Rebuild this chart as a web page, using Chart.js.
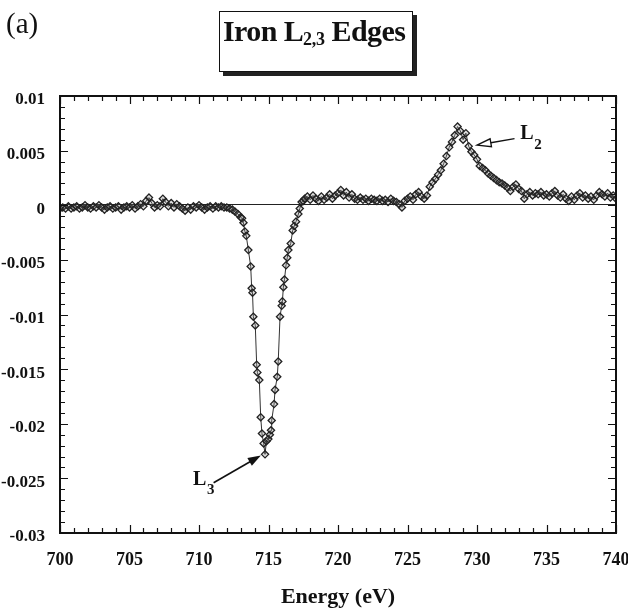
<!DOCTYPE html>
<html>
<head>
<meta charset="utf-8">
<script src="https://cdn.jsdelivr.net/npm/chart.js@4.4.1/dist/chart.umd.min.js"></script>
<style>
  html, body { margin: 0; padding: 0; background: #fff; }
  #wrap { position: relative; width: 628px; height: 612px; overflow: hidden; background: #fff; }
  #c { position: absolute; left: 0; top: 0; }
  #panel { position: absolute; left: 6px; top: 7px; font: 29px "Liberation Serif", "Times New Roman", serif; color: #111; }
  #titlebox { position: absolute; left: 219px; top: 11px; width: 192px; height: 59px; border: 1.5px solid #111;
              box-shadow: 4px 4px 0 #222; background: #fff; box-sizing: content-box; }
  #titlebox span.t { position: absolute; left: 3px; top: 2px; white-space: nowrap;
              font: bold 30px "Liberation Serif", "Times New Roman", serif; color: #111; letter-spacing: -0.6px; }
  #titlebox sub { font-size: 18px; vertical-align: -4px; line-height: 0; letter-spacing: -0.3px; }
</style>
</head>
<body>
<div id="wrap">
  <canvas id="c" width="628" height="612"></canvas>
  <div id="panel">(a)</div>
  <div id="titlebox"><span class="t">Iron L<sub>2,3</sub> Edges</span></div>
</div>
<script>
// ---------------- DATA ----------------
// Pre-edge region: energies from preStart in steps of preStep (eV)
const preStart = 700.0;
const preStep = 0.2;
const preEdge = [
  -0.0003, -0.0002, -0.0003, -0.0001, -0.0003, -0.0002, -0.0001, -0.0003, -0.0002, 0.0000,
  -0.0002, -0.0003, -0.0001, -0.0002, 0.0000, -0.0002, -0.0004, -0.0002, -0.0001, -0.0003,
  -0.0002, -0.0001, -0.0004, -0.0002, -0.0001, -0.0002, 0.0000, -0.0003, -0.0001, 0.0001,
  -0.0001, 0.0004, 0.0007, 0.0002, -0.0002, 0.0000, -0.0001, 0.0006, 0.0003, -0.0001,
  0.0002, -0.0002, 0.0001, -0.0001, -0.0003, -0.0005, -0.0002, -0.0004, -0.0001, -0.0002,
  0.0000, -0.0002, -0.0004, -0.0002, -0.0001, -0.0003, -0.0001, -0.0002, -0.0001, -0.0002,
  -0.0002, -0.0003
];
// L3 edge region: explicit energies (eV) and values
const edgeEnergy = [
  712.4, 712.6, 712.8, 713.0, 713.1, 713.2, 713.3, 713.4, 713.55, 713.72,
  713.79, 713.85, 713.91, 714.05, 714.15, 714.2, 714.34, 714.44, 714.53, 714.65,
  714.75, 714.85, 714.99, 715.1, 715.18, 715.23, 715.4, 715.47, 715.63, 715.7,
  715.83, 715.95, 716.0, 716.07, 716.15, 716.26, 716.35, 716.43, 716.6, 716.74,
  716.85, 716.98, 717.15, 717.25, 717.38, 717.5, 717.6
];
const edgeValue = [
  -0.0004, -0.0006, -0.0008, -0.0011, -0.0012, -0.0016, -0.0024, -0.0028, -0.0041, -0.0056,
  -0.0076, -0.0080, -0.0102, -0.0110, -0.0146, -0.0153, -0.0160, -0.0194, -0.0209, -0.0218,
  -0.0228, -0.0216, -0.0214, -0.0210, -0.0206, -0.0197, -0.0182, -0.0169, -0.0157, -0.0143,
  -0.0102, -0.0092, -0.0088, -0.0075, -0.0068, -0.0055, -0.0048, -0.0041, -0.0035, -0.0023,
  -0.0019, -0.0015, -0.0008, -0.0003, 0.0003, 0.0004, 0.0006
];
// Post-edge region (incl. L2 peak): energies from postStart in steps of postStep (eV)
const postStart = 717.8;
const postStep = 0.2;
const postEdge = [
  0.0008, 0.0005, 0.0009, 0.0006, 0.0004, 0.0008, 0.0005, 0.0007, 0.0010, 0.0006,
  0.0009, 0.0011, 0.0014, 0.0009, 0.0012, 0.0007, 0.0010, 0.0006, 0.0005, 0.0007,
  0.0005, 0.0006, 0.0004, 0.0006, 0.0005, 0.0004, 0.0006, 0.0004, 0.0005, 0.0003,
  0.0006, 0.0004, 0.0003, 0.0001, -0.0002, 0.0004, 0.0006, 0.0008, 0.0005, 0.0010,
  0.0012, 0.0008, 0.0006, 0.0009, 0.0017, 0.0021, 0.0024, 0.0028, 0.0032, 0.0038,
  0.0045, 0.0053, 0.0058, 0.0064, 0.0072, 0.0068, 0.0060, 0.0066, 0.0054, 0.0049,
  0.0046, 0.0042, 0.0036, 0.0034, 0.0032, 0.0029, 0.0027, 0.0025, 0.0023, 0.0021,
  0.0020, 0.0018, 0.0016, 0.0013, 0.0017, 0.0019, 0.0015, 0.0013, 0.0006, 0.0010,
  0.0012, 0.0009, 0.0011, 0.0010, 0.0012, 0.0009, 0.0010, 0.0008, 0.0011, 0.0013,
  0.0009, 0.0007, 0.0010, 0.0006, 0.0004, 0.0008, 0.0005, 0.0009, 0.0011, 0.0007,
  0.0009, 0.0006, 0.0008, 0.0005, 0.0009, 0.0012, 0.0010, 0.0008, 0.0011, 0.0007,
  0.0009, 0.0006
];
// Axis ticks
const xTicks = [700, 705, 710, 715, 720, 725, 730, 735, 740];
const yTicks = [0.01, 0.005, 0, -0.005, -0.01, -0.015, -0.02, -0.025, -0.03];
const xMinorStep = 1;
const yMinorStep = 0.001;
// Peak annotations (data coordinates)
const labelL3 = { text: 'L', sub: '3', at: [710.05, -0.0251], tail: [711.05, -0.0254], tip: [714.45, -0.0229] };
const labelL2 = { text: 'L', sub: '2', at: [733.6, 0.0065], tail: [732.7, 0.0061], tip: [730.0, 0.0055] };

// ---------------- BUILD POINTS ----------------
const points = [];
preEdge.forEach((v, i) => points.push({ x: +(preStart + i * preStep).toFixed(2), y: v }));
edgeEnergy.forEach((e, i) => points.push({ x: e, y: edgeValue[i] }));
postEdge.forEach((v, i) => points.push({ x: +(postStart + i * postStep).toFixed(2), y: v }));

const SERIF = '"Liberation Serif", "Times New Roman", serif';

const framePlugin = {
  id: 'frame',
  beforeDatasetsDraw(chart) {
    const { ctx, chartArea: a, scales: { y } } = chart;
    ctx.save();
    ctx.strokeStyle = '#222';
    ctx.lineWidth = 1;
    const y0 = Math.round(y.getPixelForValue(0)) - 0.5;
    ctx.beginPath(); ctx.moveTo(a.left, y0); ctx.lineTo(a.right, y0); ctx.stroke();
    ctx.restore();
  },
  afterDraw(chart) {
    const { ctx, chartArea: a, scales: { x, y } } = chart;
    ctx.save();
    ctx.strokeStyle = '#111';
    ctx.lineWidth = 1.2;
    for (let v = x.min; v <= x.max + 1e-9; v += xMinorStep) {
      const px = Math.round(x.getPixelForValue(v)) + 0.5;
      const major = xTicks.some(t => Math.abs(t - v) < 1e-6);
      const len = major ? 8 : 5;
      ctx.beginPath();
      ctx.moveTo(px, a.bottom); ctx.lineTo(px, a.bottom - len);
      ctx.moveTo(px, a.top); ctx.lineTo(px, a.top + len);
      ctx.stroke();
    }
    const n = Math.round((y.max - y.min) / yMinorStep);
    for (let k = 0; k <= n; k++) {
      const v = y.min + k * yMinorStep;
      const py = Math.round(y.getPixelForValue(v)) + 0.5;
      const major = yTicks.some(t => Math.abs(t - v) < 1e-7);
      const len = major ? 8 : 5;
      ctx.beginPath();
      ctx.moveTo(a.left, py); ctx.lineTo(a.left + len, py);
      ctx.moveTo(a.right, py); ctx.lineTo(a.right - len, py);
      ctx.stroke();
    }
    ctx.lineWidth = 2;
    ctx.strokeStyle = '#111';
    ctx.strokeRect(a.left, a.top, a.right - a.left, a.bottom - a.top);

    const drawLabel = (lab) => {
      const lx = x.getPixelForValue(lab.at[0]);
      const ly = y.getPixelForValue(lab.at[1]);
      ctx.fillStyle = '#111';
      ctx.textBaseline = 'middle';
      ctx.textAlign = 'center';
      ctx.font = 'bold 20px ' + SERIF;
      ctx.fillText(lab.text, lx, ly);
      ctx.font = 'bold 15px ' + SERIF;
      ctx.fillText(lab.sub, lx + 11, ly + 11);
    };
    drawLabel(labelL3);
    drawLabel(labelL2);

    {
      const tx = x.getPixelForValue(labelL3.tail[0]), ty = y.getPixelForValue(labelL3.tail[1]);
      const hx = x.getPixelForValue(labelL3.tip[0]), hy = y.getPixelForValue(labelL3.tip[1]);
      const ang = Math.atan2(hy - ty, hx - tx);
      ctx.strokeStyle = '#111'; ctx.lineWidth = 1.6;
      ctx.beginPath(); ctx.moveTo(tx, ty); ctx.lineTo(hx - 8 * Math.cos(ang), hy - 8 * Math.sin(ang)); ctx.stroke();
      ctx.fillStyle = '#111';
      ctx.beginPath();
      ctx.moveTo(hx, hy);
      ctx.lineTo(hx - 13 * Math.cos(ang) + 4.5 * Math.sin(ang), hy - 13 * Math.sin(ang) - 4.5 * Math.cos(ang));
      ctx.lineTo(hx - 13 * Math.cos(ang) - 4.5 * Math.sin(ang), hy - 13 * Math.sin(ang) + 4.5 * Math.cos(ang));
      ctx.closePath(); ctx.fill();
    }
    {
      const tx = x.getPixelForValue(labelL2.tail[0]), ty = y.getPixelForValue(labelL2.tail[1]);
      const hx = x.getPixelForValue(labelL2.tip[0]), hy = y.getPixelForValue(labelL2.tip[1]);
      const ang = Math.atan2(hy - ty, hx - tx);
      ctx.strokeStyle = '#111'; ctx.lineWidth = 1.3;
      const bx = hx - 14 * Math.cos(ang), by = hy - 14 * Math.sin(ang);
      ctx.beginPath(); ctx.moveTo(tx, ty); ctx.lineTo(bx, by); ctx.stroke();
      ctx.fillStyle = '#fff';
      ctx.beginPath();
      ctx.moveTo(hx, hy);
      ctx.lineTo(bx + 4 * Math.sin(ang), by - 4 * Math.cos(ang));
      ctx.lineTo(bx - 4 * Math.sin(ang), by + 4 * Math.cos(ang));
      ctx.closePath(); ctx.fill(); ctx.stroke();
    }
    ctx.restore();
  }
};

new Chart(document.getElementById('c'), {
  type: 'line',
  data: {
    datasets: [{
      data: points,
      borderColor: '#333',
      borderWidth: 1,
      pointStyle: 'rectRot',
      pointRadius: 3.6,
      pointBorderWidth: 1.3,
      pointBorderColor: '#222',
      pointBackgroundColor: 'rgba(120,120,120,0.25)',
      tension: 0,
      fill: false
    }]
  },
  options: {
    responsive: false,
    animation: false,
    events: [],
    layout: { padding: { left: 0, right: 12, top: 96, bottom: 0 } },
    plugins: { legend: { display: false }, tooltip: { enabled: false }, title: { display: false } },
    scales: {
      x: {
        type: 'linear',
        min: 700, max: 740,
        grid: { display: false, drawTicks: false },
        border: { display: false },
        afterBuildTicks: (s) => { s.ticks = xTicks.map(v => ({ value: v })); },
        ticks: {
          autoSkip: false, maxRotation: 0, padding: 17, color: '#111',
          font: { family: SERIF, size: 18, weight: 'bold' },
          callback: (v) => String(v)
        },
        title: {
          display: true, text: 'Energy (eV)', color: '#111',
          font: { family: SERIF, size: 22, weight: 'bold' },
          padding: { top: 0, bottom: 1 }
        },
        afterFit: (s) => { s.height = 612 - 533; s.paddingLeft = 0; s.paddingRight = 0; }
      },
      y: {
        type: 'linear',
        min: -0.03, max: 0.01,
        grid: { display: false, drawTicks: false },
        border: { display: false },
        afterBuildTicks: (s) => { s.ticks = yTicks.map(v => ({ value: v })); },
        ticks: {
          autoSkip: false, padding: 15, labelOffset: 4, color: '#111',
          font: { family: SERIF, size: 17, weight: 'bold' },
          callback: (v) => String(parseFloat(Number(v).toFixed(4)))
        },
        afterFit: (s) => { s.width = 60; s.paddingTop = 0; s.paddingBottom = 0; }
      }
    }
  },
  plugins: [framePlugin]
});
</script>
</body>
</html>
